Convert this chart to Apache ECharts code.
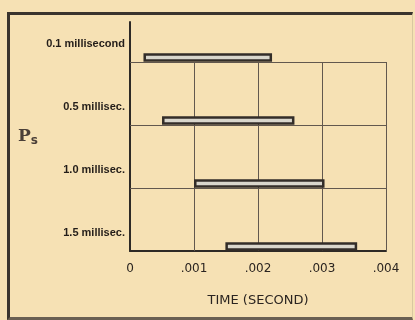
<!DOCTYPE html>
<html><head><meta charset="utf-8">
<script src="https://cdn.jsdelivr.net/npm/echarts@6/dist/echarts.min.js"></script>
<style>
html,body{margin:0;padding:0;background:#f6e1b4;}
#frame{position:absolute;left:7px;top:12px;width:402px;height:302px;border-left:3px solid #3a342e;border-top:3px solid #3a342e;border-right:1px solid #d9c8a0;border-bottom:3px solid #6a5f52;}
#c{position:absolute;left:0;top:0;width:415px;height:320px;}
</style></head>
<body><div id="frame"></div><div id="c"></div>
<script>
const categories = ['0.1 millisecond', '0.5 millisec.', '1.0 millisec.', '1.5 millisec.'];
const startTimes = [0.00023, 0.00052, 0.00102, 0.00151];
const endTimes = [0.0022, 0.00255, 0.00302, 0.00353];
const xTicks = [0, 0.001, 0.002, 0.003, 0.004];
const xTickLabels = ['0', '.001', '.002', '.003', '.004'];
const yTitle = 'P';
const yTitleSub = 's';
const xTitle = 'TIME (SECOND)';

const n = categories.length;
const rows = categories.map((c, i) => n - 1 - i);
const data = categories.map((c, i) => [startTimes[i], endTimes[i], rows[i], c]);

const gridCol = '#62584e';
const vLines = xTicks.slice(1).map(x => [{coord: [x, 0]}, {coord: [x, n - 1]}]);
const hLines = rows.filter(r => r > 0).map(r => [{coord: [xTicks[0], r]}, {coord: [xTicks[xTicks.length - 1], r]}]);

const chart = echarts.init(document.getElementById('c'), null, {renderer: 'canvas'});
chart.setOption({
  backgroundColor: 'transparent',
  animation: false,
  grid: {left: 130, right: 29, top: 22, bottom: 69},
  xAxis: {
    type: 'value', min: 0, max: 0.004, interval: 0.001,
    axisLine: {show: true, lineStyle: {color: '#2e2a26', width: 2}},
    axisTick: {show: false}, splitLine: {show: false},
    axisLabel: {margin: 12, color: '#2a2420', fontSize: 12, fontFamily: 'DejaVu Sans',
      formatter: v => { const k = xTicks.findIndex(t => Math.abs(t - v) < 1e-9); return k >= 0 ? xTickLabels[k] : ''; }},
    name: xTitle, nameLocation: 'middle', nameGap: 43,
    nameTextStyle: {color: '#2a2420', fontSize: 13, fontFamily: 'DejaVu Sans'}
  },
  yAxis: {
    type: 'value', min: 0, max: (n - 1) * 229 / 189,
    axisLine: {show: true, lineStyle: {color: '#2e2a26', width: 2}},
    axisTick: {show: false}, splitLine: {show: false}, axisLabel: {show: false},
    name: '{p|' + yTitle + '}{s|' + yTitleSub + '}', nameLocation: 'middle', nameRotate: 0, nameGap: 92,
    nameTextStyle: {rich: {
      p: {fontSize: 17, fontWeight: 'bold', fontFamily: 'DejaVu Serif', color: '#4a3f38'},
      s: {fontSize: 12, fontWeight: 'bold', fontFamily: 'DejaVu Sans', color: '#4a3f38', padding: [8, 0, 0, 0]}
    }}
  },
  series: [
    {
      type: 'line', data: [], silent: true,
      markLine: {silent: true, symbol: 'none', label: {show: false},
        lineStyle: {color: gridCol, width: 1, type: 'solid'},
        data: vLines.concat(hLines)}
    },
    {
      type: 'custom', z: 5,
      encode: {x: [0, 1], y: 2},
      data: data,
      renderItem: function (params, api) {
        const a = api.coord([api.value(0), api.value(2)]);
        const b = api.coord([api.value(1), api.value(2)]);
        const h = 6;
        return {
          type: 'group',
          children: [
            {type: 'rect', shape: {x: a[0], y: a[1] - h - 1.5, width: b[0] - a[0], height: h},
              style: {fill: '#d9d6cc', stroke: '#332d28', lineWidth: 2.5}},
            {type: 'text', style: {text: categories[params.dataIndex], x: api.coord([0, 0])[0] - 5, y: a[1] - 18,
              align: 'right', verticalAlign: 'middle', fill: '#231d19', fontSize: 11, fontWeight: 'bold',
              fontFamily: 'Liberation Sans'}}
          ]
        };
      }
    }
  ]
});
</script></body></html>
